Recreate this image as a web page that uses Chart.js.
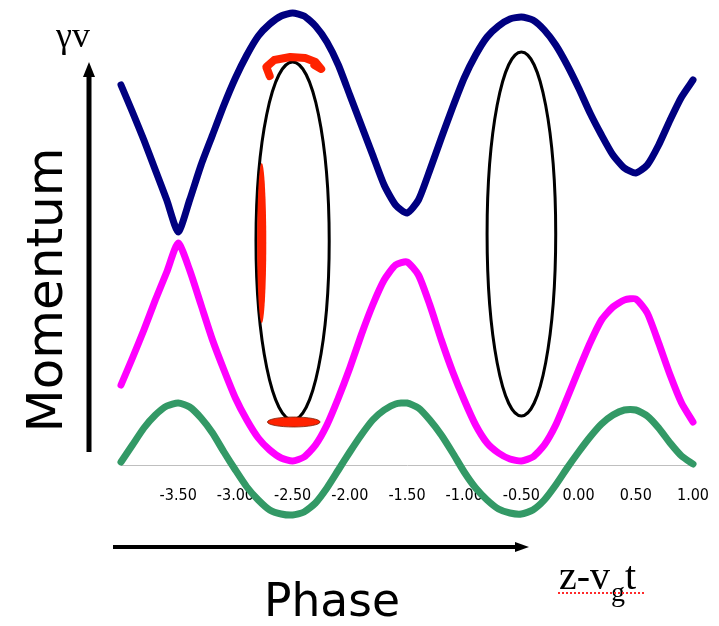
<!DOCTYPE html>
<html>
<head>
<meta charset="utf-8">
<script src="https://cdn.jsdelivr.net/npm/chart.js@4"></script>
<style>
  html, body { margin: 0; padding: 0; background: #fff; }
  #wrap { width: 719px; height: 626px; }
</style>
</head>
<body>
<div id="wrap"><canvas id="phaseChart" width="719" height="626"></canvas></div>
<script>
// phase axis (z - vg t)
const phase = [-4.0, -3.9, -3.8, -3.7, -3.6, -3.5, -3.4, -3.3, -3.2, -3.1,
               -3.0, -2.9, -2.8, -2.7, -2.6, -2.5, -2.4, -2.3, -2.2, -2.1,
               -2.0, -1.9, -1.8, -1.7, -1.6, -1.5, -1.4, -1.3, -1.2, -1.1,
               -1.0, -0.9, -0.8, -0.7, -0.6, -0.5, -0.4, -0.3, -0.2, -0.1,
                0.0,  0.1,  0.2,  0.3,  0.4,  0.5,  0.6,  0.7,  0.8,  0.9, 1.0];

// momentum traces
const blueMomentum = [3.80, 3.53, 3.25, 2.95, 2.65, 2.33, 2.65, 3.00, 3.30, 3.60,
                      3.87, 4.10, 4.29, 4.41, 4.49, 4.52, 4.49, 4.39, 4.23, 4.00,
                      3.70, 3.40, 3.10, 2.80, 2.60, 2.52, 2.65, 2.95, 3.27, 3.58,
                      3.87, 4.10, 4.28, 4.39, 4.46, 4.48, 4.45, 4.35, 4.20, 4.00,
                      3.77, 3.52, 3.30, 3.10, 2.97, 2.92, 3.00, 3.20, 3.45, 3.68, 3.85];
const magentaMomentum = [0.80, 1.07, 1.35, 1.65, 1.93, 2.22, 1.95, 1.60, 1.25, 0.95,
                         0.67, 0.45, 0.27, 0.15, 0.07, 0.04, 0.08, 0.20, 0.40, 0.67,
                         0.97, 1.30, 1.60, 1.85, 2.00, 2.03, 1.90, 1.60, 1.25, 0.93,
                         0.65, 0.40, 0.22, 0.12, 0.06, 0.04, 0.08, 0.20, 0.40, 0.67,
                         0.95, 1.22, 1.45, 1.58, 1.65, 1.66, 1.52, 1.22, 0.90, 0.62, 0.43];
const greenMomentum = [0.03, 0.20, 0.37, 0.50, 0.59, 0.62, 0.58, 0.47, 0.32, 0.13,
                       -0.05, -0.22, -0.35, -0.45, -0.49, -0.50, -0.47, -0.38, -0.23, -0.05,
                       0.13, 0.30, 0.45, 0.55, 0.61, 0.62, 0.57, 0.45, 0.30, 0.12,
                       -0.07, -0.23, -0.35, -0.44, -0.48, -0.49, -0.45, -0.35, -0.20, -0.03,
                       0.13, 0.28, 0.41, 0.50, 0.55, 0.55, 0.49, 0.37, 0.22, 0.09, 0.01];

const tickLabels = ['-3.50', '-3.00', '-2.50', '-2.00', '-1.50', '-1.00', '-0.50', '0.00', '0.50', '1.00'];

// bunch ellipses: [centre phase, centre momentum, half width, half height]
const bunchEllipses = [[-2.50, 2.24, 0.32, 1.79], [-0.50, 2.31, 0.30, 1.82]];
// red patches on the first ellipse
const redSide = [-2.77, 2.22, 0.04, 0.80];
const redBottom = [-2.49, 0.43, 0.23, 0.05];
const redHookPhase = [-2.70, -2.73, -2.66, -2.52, -2.39, -2.30, -2.25, -2.31];
const redHookMomentum = [3.89, 3.98, 4.05, 4.08, 4.07, 4.03, 3.96, 4.00];

const toPoints = (xs, ys) => xs.map((x, i) => ({ x: x, y: ys[i] }));

function line(data, color) {
    return {
        data: toPoints(phase, data),
        borderColor: color,
        borderWidth: 7,
        pointRadius: 0,
        tension: 0.2,
        clip: false,
        borderCapStyle: 'round',
        borderJoinStyle: 'round'
    };
}

const decorations = {
    id: 'decorations',
    afterDatasetsDraw(chart) {
        const ctx = chart.ctx;
        const xs = chart.scales.x;
        const ys = chart.scales.y;
        const px = v => xs.getPixelForValue(v);
        const py = v => ys.getPixelForValue(v);

        function ell(e, fill, stroke, lw) {
            const cx = px(e[0]), cy = py(e[1]);
            const rx = Math.abs(px(e[0] + e[2]) - cx);
            const ry = Math.abs(py(e[1] + e[3]) - cy);
            ctx.beginPath();
            ctx.ellipse(cx, cy, rx, ry, 0, 0, Math.PI * 2);
            if (fill) { ctx.fillStyle = fill; ctx.fill(); }
            if (stroke) { ctx.strokeStyle = stroke; ctx.lineWidth = lw; ctx.stroke(); }
        }

        ctx.save();
        bunchEllipses.forEach(e => ell(e, null, '#000', 3));
        ell(redSide, '#ff2200', null, 0);
        ell(redBottom, '#ff2200', '#7a1a00', 0.8);

        ctx.beginPath();
        redHookPhase.forEach((x, i) => {
            if (i === 0) ctx.moveTo(px(x), py(redHookMomentum[i]));
            else ctx.lineTo(px(x), py(redHookMomentum[i]));
        });
        ctx.strokeStyle = '#ff2200';
        ctx.lineWidth = 8;
        ctx.lineCap = 'round';
        ctx.lineJoin = 'round';
        ctx.stroke();
        ctx.restore();
    },
    afterDraw(chart) {
        const ctx = chart.ctx;
        const a = chart.chartArea;
        ctx.save();
        ctx.fillStyle = '#000';
        ctx.strokeStyle = '#000';

        // vertical momentum arrow
        const ax = a.left - 32;
        ctx.lineWidth = 5;
        ctx.beginPath();
        ctx.moveTo(ax, a.bottom - 13);
        ctx.lineTo(ax, 74);
        ctx.stroke();
        ctx.beginPath();
        ctx.moveTo(ax, 62);
        ctx.lineTo(ax - 6, 77);
        ctx.lineTo(ax + 6, 77);
        ctx.closePath();
        ctx.fill();

        // horizontal phase arrow
        ctx.lineWidth = 4;
        ctx.beginPath();
        ctx.moveTo(a.left - 8, 547);
        ctx.lineTo(517, 547);
        ctx.stroke();
        ctx.beginPath();
        ctx.moveTo(529, 547);
        ctx.lineTo(515, 542);
        ctx.lineTo(515, 552);
        ctx.closePath();
        ctx.fill();

        // gamma v
        ctx.font = '36px "Liberation Serif", serif';
        ctx.textBaseline = 'alphabetic';
        ctx.textAlign = 'left';
        ctx.fillText('γv', 56, 47);

        // Momentum (rotated)
        ctx.save();
        ctx.translate(62, 290);
        ctx.rotate(-Math.PI / 2);
        ctx.font = '50px "Comic Sans MS", "DejaVu Sans", sans-serif';
        ctx.textAlign = 'center';
        ctx.fillText('Momentum', 0, 0, 285);
        ctx.restore();

        // Phase
        ctx.font = '46px "Comic Sans MS", "DejaVu Sans", sans-serif';
        ctx.textAlign = 'center';
        ctx.fillText('Phase', 332, 616, 136);

        // z - vg t
        ctx.textAlign = 'left';
        ctx.font = '40px "Liberation Serif", serif';
        ctx.fillText('z-v', 559, 589);
        let w = ctx.measureText('z-v').width;
        ctx.font = '28px "Liberation Serif", serif';
        ctx.fillText('g', 559 + w + 1, 601);
        let wg = ctx.measureText('g').width;
        ctx.font = '40px "Liberation Serif", serif';
        ctx.fillText('t', 559 + w + wg + 1, 589);

        ctx.strokeStyle = '#ff2a2a';
        ctx.lineWidth = 2;
        ctx.setLineDash([2, 2]);
        ctx.beginPath();
        ctx.moveTo(558, 593);
        ctx.lineTo(646, 593);
        ctx.stroke();
        ctx.restore();
    }
};

const chart = new Chart(document.getElementById('phaseChart'), {
    type: 'line',
    data: {
        datasets: [
            line(greenMomentum, '#339966'),
            line(magentaMomentum, '#ff00ff'),
            line(blueMomentum, '#000080')
        ]
    },
    options: {
        responsive: false,
        devicePixelRatio: 1,
        animation: false,
        layout: { padding: { left: 121, right: 26, top: 15, bottom: 100 } },
        plugins: { legend: { display: false }, tooltip: { enabled: false } },
        scales: {
            x: {
                type: 'linear',
                min: -4,
                max: 1,
                afterFit(scale) { scale.paddingLeft = 0; scale.paddingRight = 0; scale.height = 61; },
                border: { display: true, color: '#bfbfbf', width: 1 },
                grid: { drawOnChartArea: false, drawTicks: false },
                ticks: {
                    stepSize: 0.5,
                    padding: 21,
                    maxRotation: 0,
                    autoSkip: false,
                    color: '#000',
                    font: { family: '"Liberation Sans Narrow", "DejaVu Sans Condensed", sans-serif', size: 16 },
                    callback: v => tickLabels.find(t => parseFloat(t) === v) || ''
                }
            },
            y: {
                display: false,
                min: 0,
                max: 4.5
            }
        }
    },
    plugins: [decorations]
});
</script>
</body>
</html>
